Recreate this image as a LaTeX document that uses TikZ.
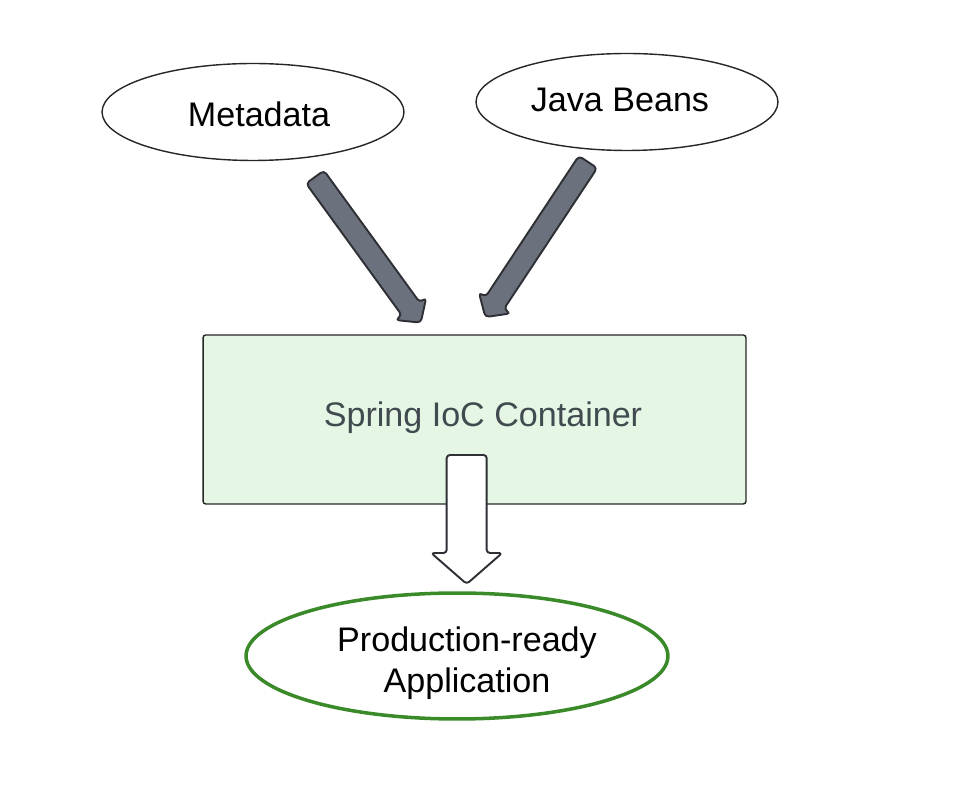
\documentclass[tikz,border=0pt]{standalone}
\usepackage{fontspec}
\setmainfont{Liberation Sans}
\usetikzlibrary{shapes.geometric}
\definecolor{arrowgray}{HTML}{6C727D}
\definecolor{edgegray}{HTML}{2E3035}
\definecolor{boxgreen}{HTML}{E5F6E5}
\definecolor{boxtext}{HTML}{414B4F}
\definecolor{appgreen}{HTML}{3B8A2A}
\tikzset{
  source/.style={ellipse, draw=black!85, line width=0.8pt, minimum width=6.04cm,
    minimum height=1.94cm, inner sep=0pt},
  container/.style={rectangle, draw=black!85, line width=0.8pt, rounded corners=1.5pt,
    fill=boxgreen, minimum width=10.86cm, minimum height=3.38cm},
  result/.style={ellipse, draw=appgreen, line width=2pt, minimum width=8.44cm,
    minimum height=2.52cm, inner sep=0pt},
  caption/.style={inner sep=0pt, align=center},
  feedarrow/.style={draw=edgegray, fill=arrowgray, line width=1.1pt,
    rounded corners=2.2pt, line join=round},
  outarrow/.style={draw=edgegray, fill=white, line width=1.1pt,
    rounded corners=1.8pt, line join=round}
}
\begin{document}
\begin{tikzpicture}[x=0.02cm, y=-0.02cm, font=\fontsize{19.4}{23.6}\selectfont]
  \useasboundingbox (0,0) rectangle (964,786);
  \node[source] (meta) at (253,112) {};
  \node[caption] (metaText) at (259,114) {Metadata};
  \node[source] (beans) at (627,102) {};
  \node[caption] (beansText) at (620,100) {Java Beans};
  \node[container] (ioc) at (474.5,419.5) {};
  \node[caption, text=boxtext] (iocText) at (483,418) {Spring IoC Container};
  \node[result] (app) at (457,656) {};
  \node[caption] (appText) at (467,663) {Production-ready\\Application};
  % gray feed arrows: tail, angle, length
  \coordinate (metaTail) at (315,177);
  \coordinate (beansTail) at (588,162);
  \foreach \tail/\ang/\len in {metaTail/-54/180, beansTail/-123.5/186} {
    \begin{scope}[shift={(\tail)}, rotate=\ang]
      \draw[feedarrow] (0,11) -- (\len-17,11) -- (\len-17,19) -- (\len,0)
        -- (\len-17,-19) -- (\len-17,-11) -- (0,-11) -- cycle;
    \end{scope}
  }
  % white arrow out of the container
  \coordinate (iocOut) at (466.7,455);
  \begin{scope}[shift={(iocOut)}]
    \draw[outarrow] (-20,0) -- (-20,98) -- (-35.5,98) -- (0,129)
      -- (35.5,98) -- (20,98) -- (20,0) -- cycle;
  \end{scope}
\end{tikzpicture}
\end{document}
